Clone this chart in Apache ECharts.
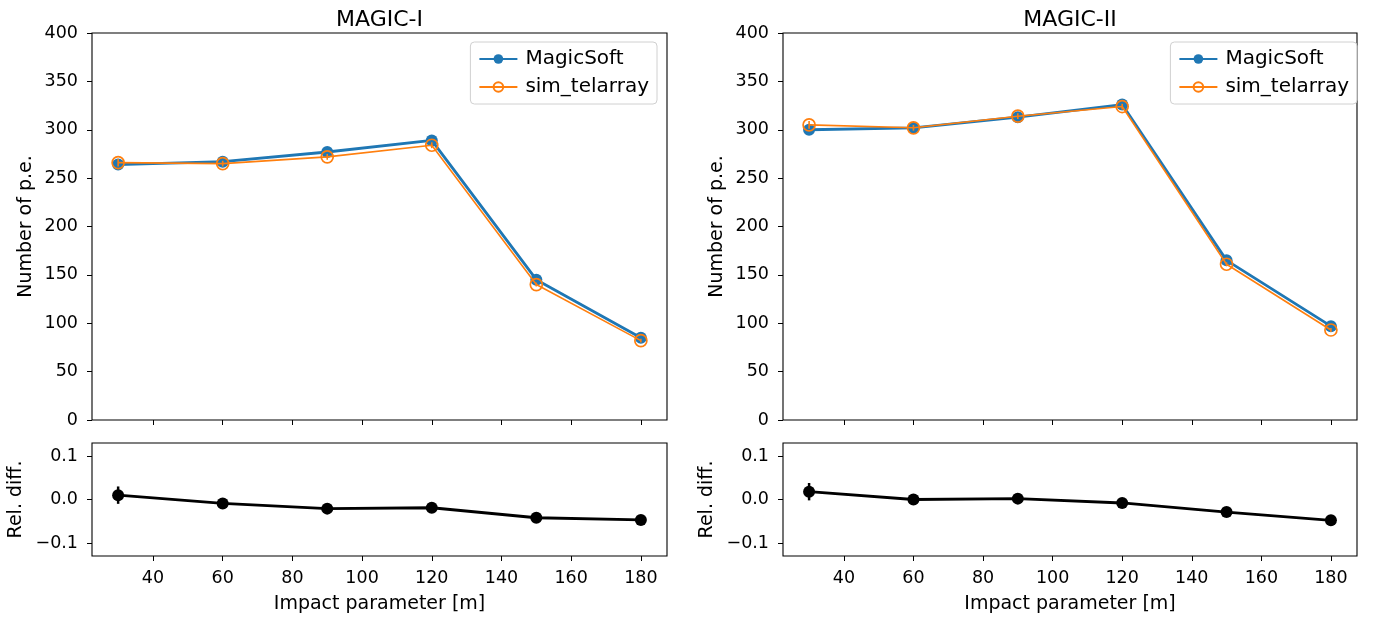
<!DOCTYPE html>
<html>
<head>
<meta charset="utf-8">
<script src="https://cdn.jsdelivr.net/npm/echarts@6/dist/echarts.min.js"></script>
<style>
  html, body { margin: 0; padding: 0; background: #fff; }
  #chart { width: 1374px; height: 621px; }
</style>
</head>
<body>
<div id="chart"></div>
<script>
const impact = [30, 60, 90, 120, 150, 180];
const xTicks = [40, 60, 80, 100, 120, 140, 160, 180];
const relTicks = [-0.1, 0, 0.1];

// MAGIC-I
const m1Magic = [264, 267, 277, 289, 145, 85];
const m1MagicErr = [3, 3, 3, 3, 2, 2];
const m1Sim = [266, 265, 272, 284, 140, 82];
const m1SimErr = [4, 3, 3, 3, 2, 2];
const m1Rel = [0.010, -0.009, -0.021, -0.019, -0.042, -0.047];
const m1RelErr = [0.020, 0.010, 0.006, 0.006, 0.006, 0.006];

// MAGIC-II
const m2Magic = [300, 302, 313, 326, 165, 97];
const m2MagicErr = [3, 3, 3, 3, 2, 2];
const m2Sim = [305, 302, 314, 324, 161, 93];
const m2SimErr = [4, 3, 3, 3, 2, 2];
const m2Rel = [0.018, 0.000, 0.002, -0.008, -0.029, -0.048];
const m2RelErr = [0.020, 0.010, 0.006, 0.006, 0.006, 0.006];

const BLUE = "#1f77b4";
const ORANGE = "#ff7f0e";
const FONT = "DejaVu Sans";
const TICK_FS = 17.5;
const LABEL_FS = 19;

const chart = echarts.init(document.getElementById("chart"));

function xAxisDef(gridIndex, withLabels) {
  return {
    type: "value",
    gridIndex,
    min: 22.5,
    max: 187.5,
    splitLine: { show: false },
    axisLine: { show: false, onZero: false },
    axisTick: {
      show: true, length: 5, lineStyle: { color: "#000", width: 1 },
      customValues: xTicks,
    },
    axisLabel: {
      show: withLabels, customValues: xTicks, color: "#000",
      fontFamily: FONT, fontSize: TICK_FS, margin: 13,
    },
    name: withLabels ? "Impact parameter [m]" : "",
    nameLocation: "middle",
    nameGap: 39,
    nameTextStyle: { color: "#000", fontFamily: FONT, fontSize: LABEL_FS },
  };
}

function peAxis(gridIndex) {
  return {
    type: "value",
    gridIndex,
    min: 0,
    max: 400,
    interval: 50,
    splitLine: { show: false },
    axisLine: { show: false, onZero: false },
    axisTick: { show: true, length: 5, lineStyle: { color: "#000", width: 1 } },
    axisLabel: { color: "#000", fontFamily: FONT, fontSize: TICK_FS, margin: 14 },
    name: "Number of p.e.",
    nameLocation: "middle",
    nameRotate: 90,
    nameGap: 56,
    nameTextStyle: { color: "#000", fontFamily: FONT, fontSize: LABEL_FS },
  };
}

function relAxis(gridIndex) {
  return {
    type: "value",
    gridIndex,
    min: -0.13,
    max: 0.13,
    splitLine: { show: false },
    axisLine: { show: false, onZero: false },
    axisTick: {
      show: true, length: 5, lineStyle: { color: "#000", width: 1 },
      customValues: relTicks,
    },
    axisLabel: {
      customValues: relTicks, color: "#000", fontFamily: FONT, fontSize: TICK_FS, margin: 14,
      formatter: (v) => (v < 0 ? "\u2212" : "") + Math.abs(v).toFixed(1),
    },
    name: "Rel. diff.",
    nameLocation: "middle",
    nameRotate: 90,
    nameGap: 66,
    nameTextStyle: { color: "#000", fontFamily: FONT, fontSize: LABEL_FS },
  };
}

function lineSeries(name, axisIdx, ys, color, width, hollow, z) {
  return {
    type: "line",
    name,
    xAxisIndex: axisIdx,
    yAxisIndex: axisIdx,
    data: impact.map((x, i) => [x, ys[i]]),
    symbol: "circle",
    symbolSize: 12,
    showSymbol: true,
    lineStyle: { color, width },
    itemStyle: hollow
      ? { color: "rgba(255,255,255,0)", borderColor: color, borderWidth: 1.7 }
      : { color, borderColor: color, borderWidth: 0 },
    z,
    emphasis: { disabled: true },
  };
}

function errorSeries(name, axisIdx, ys, errs, color, width, z) {
  return {
    type: "custom",
    name,
    xAxisIndex: axisIdx,
    yAxisIndex: axisIdx,
    data: impact.map((x, i) => [x, ys[i], errs[i]]),
    encode: { x: 0, y: 1 },
    z,
    renderItem: (params, api) => {
      const x = api.value(0);
      const y = api.value(1);
      const e = api.value(2);
      const p1 = api.coord([x, y - e]);
      const p2 = api.coord([x, y + e]);
      return {
        type: "line",
        shape: { x1: p1[0], y1: p1[1], x2: p2[0], y2: p2[1] },
        style: { stroke: color, lineWidth: width },
      };
    },
  };
}

function legendDef(right) {
  return {
    data: ["MagicSoft", "sim_telarray"],
    orient: "vertical",
    right,
    top: 42,
    itemWidth: 38,
    itemHeight: 12,
    itemGap: 6,
    padding: [6, 8, 6, 8],
    borderColor: "#d0d0d0",
    borderWidth: 1,
    borderRadius: 4,
    backgroundColor: "rgba(255,255,255,0.8)",
    selectedMode: false,
    textStyle: { color: "#000", fontFamily: FONT, fontSize: 20, lineHeight: 22, padding: [0, 0, 0, 3] },
  };
}

const gridStyle = { show: true, borderColor: "#000", borderWidth: 1.1, backgroundColor: "transparent" };

const option = {
  animation: false,
  backgroundColor: "#fff",
  grid: [
    { left: 92, top: 33, width: 575, height: 387, ...gridStyle },
    { left: 92, top: 443, width: 575, height: 113, ...gridStyle },
    { left: 783, top: 33, width: 574, height: 387, ...gridStyle },
    { left: 783, top: 443, width: 574, height: 113, ...gridStyle },
  ],
  xAxis: [xAxisDef(0, false), xAxisDef(1, true), xAxisDef(2, false), xAxisDef(3, true)],
  yAxis: [peAxis(0), relAxis(1), peAxis(2), relAxis(3)],
  legend: [legendDef(717), legendDef(17)],
  graphic: [
    { type: "text", x: 379.5, y: 9, style: { text: "MAGIC-I", textAlign: "center", fill: "#000", font: "22px 'DejaVu Sans'" } },
    { type: "text", x: 1070, y: 9, style: { text: "MAGIC-II", textAlign: "center", fill: "#000", font: "22px 'DejaVu Sans'" } },
  ],
  series: [
    errorSeries("m1MagicErr", 0, m1Magic, m1MagicErr, BLUE, 2.5, 2),
    lineSeries("MagicSoft", 0, m1Magic, BLUE, 2.8, false, 3),
    errorSeries("m1SimErr", 0, m1Sim, m1SimErr, ORANGE, 1.6, 4),
    lineSeries("sim_telarray", 0, m1Sim, ORANGE, 1.6, true, 5),
    errorSeries("m1RelErr", 1, m1Rel, m1RelErr, "#000", 2.5, 2),
    lineSeries("m1Rel", 1, m1Rel, "#000", 2.8, false, 3),

    errorSeries("m2MagicErr", 2, m2Magic, m2MagicErr, BLUE, 2.5, 2),
    lineSeries("MagicSoft", 2, m2Magic, BLUE, 2.8, false, 3),
    errorSeries("m2SimErr", 2, m2Sim, m2SimErr, ORANGE, 1.6, 4),
    lineSeries("sim_telarray", 2, m2Sim, ORANGE, 1.6, true, 5),
    errorSeries("m2RelErr", 3, m2Rel, m2RelErr, "#000", 2.5, 2),
    lineSeries("m2Rel", 3, m2Rel, "#000", 2.8, false, 3),
  ],
};

chart.setOption(option);
</script>
</body>
</html>
